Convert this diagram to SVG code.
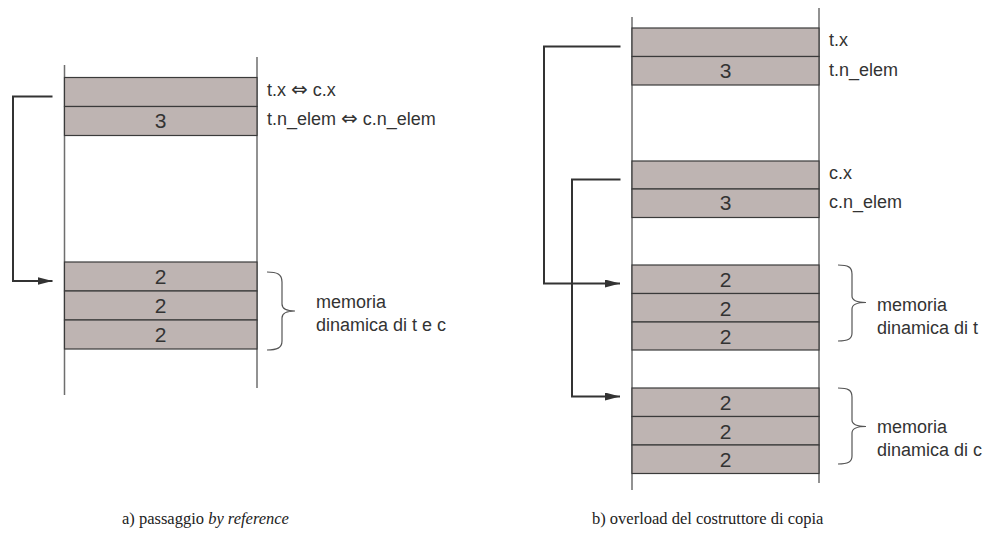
<svg xmlns="http://www.w3.org/2000/svg" width="984" height="546" viewBox="0 0 984 546">
<defs>
<style>
.col{stroke:#6e6e6e;stroke-width:1.5;fill:none}
.cell{fill:#beb4b2;stroke:#3a3a3a;stroke-width:1.2}
.num{font-family:"Liberation Sans",Arial,sans-serif;font-size:21px;fill:#333;text-anchor:middle}
.lbl{font-family:"Liberation Sans","DejaVu Sans",Arial,sans-serif;font-size:18px;fill:#333}
.sym{font-family:"DejaVu Sans",sans-serif;font-size:20px}
.brace{fill:none;stroke:#555;stroke-width:1.2}
.arr{fill:none;stroke:#333;stroke-width:2}
.cap{font-family:"Liberation Serif","Times New Roman",serif;font-size:16.5px;fill:#222}
</style>
<marker id="ah" markerWidth="15" markerHeight="8" refX="15" refY="4" orient="auto" markerUnits="userSpaceOnUse">
<path d="M0,0 L15,4 L0,8 Z" fill="#333"/>
</marker>
</defs>
<rect width="984" height="546" fill="#fff"/>

<!-- Left diagram (a) -->
<g id="memA">
<line class="col" x1="64.5" y1="65" x2="64.5" y2="395"/>
<line class="col" x1="257" y1="57" x2="257" y2="388"/>
</g>
<g id="a_tx">
<rect class="cell" x="64.5" y="77.5" width="192.5" height="29"/>
<text class="lbl" x="267" y="96">t.x <tspan class="sym">⇔</tspan> c.x</text>
</g>
<g id="a_tn">
<rect class="cell" x="64.5" y="106.5" width="192.5" height="29"/>
<text class="num" x="160.5" y="128">3</text>
<text class="lbl" x="267" y="125">t.n_elem <tspan class="sym">⇔</tspan> c.n_elem</text>
</g>
<g id="a_dyn">
<rect class="cell" x="64.5" y="262" width="192.5" height="29"/>
<rect class="cell" x="64.5" y="291" width="192.5" height="29"/>
<rect class="cell" x="64.5" y="320" width="192.5" height="29"/>
<text class="num" x="160.5" y="284">2</text>
<text class="num" x="160.5" y="313">2</text>
<text class="num" x="160.5" y="342">2</text>
<path class="brace" d="M267,272 C277,272 282,274 282,282 L282,304 C282,309 286,311 295,311 C286,311 282,313 282,318 L282,341 C282,348 277,350 267,350"/>
<text class="lbl" x="316" y="308">memoria</text>
<text class="lbl" x="316" y="331">dinamica di t e c</text>
</g>

<!-- Right diagram (b) -->
<g id="memB">
<line class="col" x1="632" y1="17" x2="632" y2="490"/>
<line class="col" x1="819" y1="8" x2="819" y2="483"/>
</g>
<g id="b_tx">
<rect class="cell" x="632" y="28" width="187" height="28.5"/>
<text class="lbl" x="829" y="46">t.x</text>
</g>
<g id="b_tn">
<rect class="cell" x="632" y="56.5" width="187" height="28.5"/>
<text class="num" x="725.5" y="78">3</text>
<text class="lbl" x="829" y="75.5">t.n_elem</text>
</g>
<g id="b_cx">
<rect class="cell" x="632" y="161" width="187" height="28"/>
<text class="lbl" x="829" y="179">c.x</text>
</g>
<g id="b_cn">
<rect class="cell" x="632" y="189" width="187" height="28.5"/>
<text class="num" x="725.5" y="210">3</text>
<text class="lbl" x="829" y="208">c.n_elem</text>
</g>
<g id="b_dynT">
<rect class="cell" x="632" y="265" width="187" height="28.5"/>
<rect class="cell" x="632" y="293.5" width="187" height="28.5"/>
<rect class="cell" x="632" y="322" width="187" height="28"/>
<text class="num" x="725.5" y="287">2</text>
<text class="num" x="725.5" y="315.5">2</text>
<text class="num" x="725.5" y="344">2</text>
<path class="brace" d="M838,265 C848,265 852,267 852,274 L852,296 C852,300 856,302.5 866,302.5 C856,302.5 852,305 852,309 L852,333 C852,339 848,341 838,341"/>
<text class="lbl" x="877" y="311">memoria</text>
<text class="lbl" x="877" y="334">dinamica di t</text>
</g>
<g id="b_dynC">
<rect class="cell" x="632" y="388" width="187" height="28.5"/>
<rect class="cell" x="632" y="416.5" width="187" height="28.5"/>
<rect class="cell" x="632" y="445" width="187" height="28.5"/>
<text class="num" x="725.5" y="410">2</text>
<text class="num" x="725.5" y="438.5">2</text>
<text class="num" x="725.5" y="467">2</text>
<path class="brace" d="M838,388 C848,388 852,390 852,397 L852,420 C852,424 856,426.5 866,426.5 C856,426.5 852,429 852,433 L852,456 C852,462 848,464 838,464"/>
<text class="lbl" x="877" y="433">memoria</text>
<text class="lbl" x="877" y="456">dinamica di c</text>
</g>

<g id="connectors">
<path class="arr" d="M52.5,96.5 H13 V281 H52.5" marker-end="url(#ah)"/>
<path class="arr" d="M620.5,46.5 H544 V283.5 H620" marker-end="url(#ah)"/>
<path class="arr" d="M620.5,179.5 H572 V396.5 H620" marker-end="url(#ah)"/>
</g>

<g id="captions">
<text class="cap" x="122" y="524">a) passaggio <tspan font-style="italic">by reference</tspan></text>
<text class="cap" x="592" y="524">b) overload del costruttore di copia</text>
</g>
</svg>
